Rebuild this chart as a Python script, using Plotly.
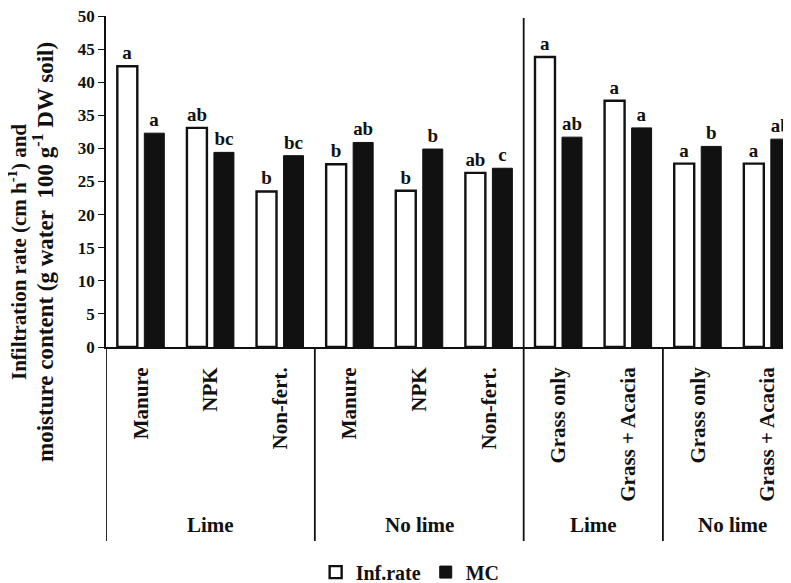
import plotly.graph_objects as go

categories = ["Manure", "NPK", "Non-fert.", "Manure", "NPK", "Non-fert.",
              "Grass only", "Grass + Acacia", "Grass only", "Grass + Acacia"]
positions = [0, 1, 2, 3, 4, 5, 6, 7, 8, 9]
inf_rate = [42.4, 33.1, 23.5, 27.6, 23.6, 26.3, 43.8, 37.2, 27.7, 27.7]
mc = [32.3, 29.4, 28.9, 30.9, 29.9, 27.0, 31.7, 33.1, 30.3, 31.4]
inf_letters = ["a", "ab", "b", "b", "b", "ab", "a", "a", "a", "a"]
mc_letters = ["a", "bc", "bc", "ab", "b", "c", "ab", "a", "b", "ab"]
group_labels = ["Lime", "No lime", "Lime", "No lime"]
group_centers = [1, 4, 6.5, 8.5]
short_separators = [-0.5, 2.5, 7.5]
full_separator = 5.5
title_line1 = "Infiltration rate (cm h<sup>-1</sup>) and"
title_line2 = "moisture content (g water&nbsp; 100 g<sup>-1</sup> DW soil)"

FONT = "Liberation Serif"
INK = "#111111"

fig = go.Figure()
fig.add_trace(go.Bar(
    x=positions, y=inf_rate, name="Inf.rate",
    marker=dict(color="white", line=dict(color=INK, width=2.4)),
    text=inf_letters, textposition="outside", cliponaxis=False,
    textfont=dict(family=FONT, size=19, color=INK, weight="bold"),
))
fig.add_trace(go.Bar(
    x=positions, y=mc, name="MC",
    marker=dict(color=INK, line=dict(color=INK, width=1)),
    text=mc_letters, textposition="outside", cliponaxis=False,
    textfont=dict(family=FONT, size=19, color=INK, weight="bold"),
))

shapes = []
bottom = -0.586
for xs in short_separators:
    shapes.append(dict(type="line", xref="x", yref="paper", x0=xs, x1=xs,
                       y0=0, y1=bottom, line=dict(color=INK, width=1.8)))
shapes.append(dict(type="line", xref="x", yref="paper", x0=full_separator,
                   x1=full_separator, y0=0.994, y1=bottom,
                   line=dict(color=INK, width=1.8)))

annotations = []
for lab, cx in zip(group_labels, group_centers):
    annotations.append(dict(text=lab, x=cx, xref="x", y=-0.538, yref="paper",
                            showarrow=False, xanchor="center", yanchor="middle",
                            font=dict(family=FONT, size=21, color=INK, weight="bold")))
annotations.append(dict(text=title_line1, x=-0.1299, xref="paper", y=0.287, yref="paper",
                        textangle=-90, showarrow=False, xanchor="center", yanchor="middle",
                        font=dict(family=FONT, size=21, color=INK, weight="bold")))
annotations.append(dict(text=title_line2, x=-0.0920, xref="paper", y=0.287, yref="paper",
                        textangle=-90, showarrow=False, xanchor="center", yanchor="middle",
                        font=dict(family=FONT, size=23, color=INK, weight="bold")))

fig.update_layout(
    width=791, height=583,
    margin=dict(l=98, r=8, t=8, b=244, pad=0, autoexpand=False),
    paper_bgcolor="white", plot_bgcolor="white",
    barmode="group", bargap=0.224, bargroupgap=0.26,
    showlegend=True,
    legend=dict(orientation="h", x=0.444, xanchor="center", y=-0.68,
                yanchor="middle", font=dict(family=FONT, size=20, color=INK, weight="bold"),
                itemwidth=30, tracegroupgap=0, bgcolor="rgba(0,0,0,0)"),
    shapes=shapes, annotations=annotations,
    font=dict(family=FONT, color=INK),
)
fig.update_xaxes(
    range=[-0.5, 9.34], tickvals=positions, ticktext=categories,
    tickangle=-90, ticks="", showgrid=False, zeroline=False,
    showline=True, linecolor=INK, linewidth=1.8, automargin=False,
    tickfont=dict(family=FONT, size=21, color=INK, weight="bold"),
    ticklabelstandoff=10,
)
fig.update_yaxes(
    range=[0, 50], dtick=5, ticks="outside", ticklen=6, tickwidth=1.4,
    tickcolor=INK, showgrid=False, zeroline=False, automargin=False,
    showline=True, linecolor=INK, linewidth=1.8, ticklabeloverflow="allow",
    tickfont=dict(family=FONT, size=17, color=INK, weight="bold"),
)

fig.write_html("out.html")
